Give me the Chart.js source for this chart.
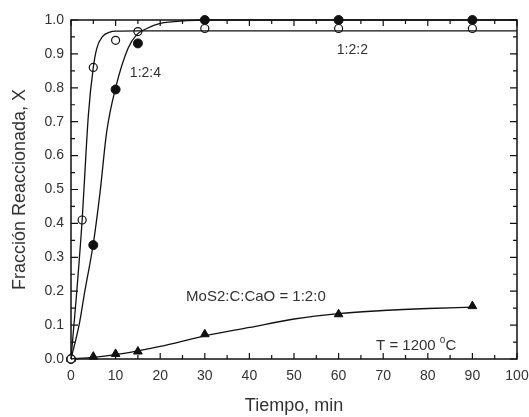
<!DOCTYPE html>
<html>
<head>
<meta charset="utf-8">
<script src="https://cdn.jsdelivr.net/npm/chart.js@4"></script>
<style>
  html, body { margin: 0; padding: 0; background: #fff; }
  #wrap { width: 529px; height: 417px; }
</style>
</head>
<body>
<div id="wrap"><canvas id="grafico" width="529" height="417"></canvas></div>
<script>
'use strict';
//****************************
// DATOS
//****************************
// puntos medidos
var tiempo122 = [0, 2.5, 5, 10, 15, 30, 60, 90];
var frac122 = [0, 0.41, 0.86, 0.94, 0.966, 0.975, 0.975, 0.975];

var tiempo124 = [0, 5, 10, 15, 30, 60, 90];
var frac124 = [0, 0.336, 0.795, 0.931, 1.0, 1.0, 1.0];

var tiempo120 = [0, 5, 10, 15, 30, 60, 90];
var frac120 = [0, 0.007, 0.015, 0.022, 0.073, 0.132, 0.156];

// curvas de ajuste
var ajusteT122 = [0, 1.3, 2.5, 2.9, 3.9, 5, 5.8, 7, 8.7, 10, 15, 30, 100];
var ajusteX122 = [0, 0.2, 0.41, 0.5, 0.72, 0.86, 0.917, 0.95, 0.964, 0.967, 0.968, 0.968, 0.968];

var ajusteT124 = [0, 1.9, 3.1, 5, 6.5, 8, 10, 12.8, 14.7, 17, 20, 26, 30, 100];
var ajusteX124 = [0, 0.106, 0.2, 0.34, 0.49, 0.67, 0.8, 0.917, 0.956, 0.975, 0.99, 0.998, 1.0, 1.0];

var ajusteT120 = [0, 5, 10, 15, 20, 30, 40, 50, 60, 70, 80, 90];
var ajusteX120 = [0, 0.005, 0.013, 0.024, 0.037, 0.068, 0.093, 0.118, 0.134, 0.143, 0.149, 0.153];

var ticksX = [0, 10, 20, 30, 40, 50, 60, 70, 80, 90, 100];
var ticksY = [0, 0.1, 0.2, 0.3, 0.4, 0.5, 0.6, 0.7, 0.8, 0.9, 1.0];

var fuente = '"Liberation Sans", Arial, sans-serif';
var colorTexto = '#333';
var colorLinea = '#111';

function pares(xs, ys) {
  var out = [];
  for (var i = 0; i < xs.length; i++) {
    out.push({ x: xs[i], y: ys[i] });
  }
  return out;
}

// marco con ticks hacia adentro en los cuatro lados
var marco = {
  id: 'marco',
  beforeDatasetsDraw: function(chart) {
    var ctx = chart.ctx;
    var a = chart.chartArea;
    var sx = chart.scales.x;
    var sy = chart.scales.y;
    ctx.save();
    ctx.strokeStyle = colorLinea;
    ctx.lineWidth = 1.5;
    ctx.strokeRect(a.left, a.top, a.right - a.left, a.bottom - a.top);
    ctx.lineWidth = 1.2;
    ctx.beginPath();
    for (var v = 0; v <= 100; v += 5) {
      var px = sx.getPixelForValue(v);
      var len = (v % 10 === 0) ? 6 : 4;
      ctx.moveTo(px, a.bottom); ctx.lineTo(px, a.bottom - len);
      ctx.moveTo(px, a.top); ctx.lineTo(px, a.top + len);
    }
    for (var k = 0; k <= 20; k++) {
      var py = sy.getPixelForValue(k * 0.05);
      var l2 = (k % 2 === 0) ? 7 : 4;
      ctx.moveTo(a.left, py); ctx.lineTo(a.left + l2, py);
      ctx.moveTo(a.right, py); ctx.lineTo(a.right - l2, py);
    }
    ctx.stroke();
    ctx.restore();
  }
};

// textos dentro del grafico
var rotulos = {
  id: 'rotulos',
  afterDraw: function(chart) {
    var ctx = chart.ctx;
    var sx = chart.scales.x;
    var sy = chart.scales.y;
    ctx.save();
    ctx.fillStyle = colorTexto;
    ctx.textBaseline = 'middle';
    ctx.textAlign = 'left';
    ctx.font = '14px ' + fuente;
    ctx.fillText('1:2:4', sx.getPixelForValue(13.2), sy.getPixelForValue(0.843));
    ctx.fillText('1:2:2', sx.getPixelForValue(59.6), sy.getPixelForValue(0.912));
    ctx.font = '15px ' + fuente;
    ctx.fillText('MoS2:C:CaO = 1:2:0', sx.getPixelForValue(25.8), sy.getPixelForValue(0.183));
    var tx = sx.getPixelForValue(68.4);
    var ty = sy.getPixelForValue(0.038);
    var t1 = 'T = 1200 ';
    ctx.fillText(t1, tx, ty);
    var w1 = ctx.measureText(t1).width;
    ctx.font = '10px ' + fuente;
    ctx.fillText('o', tx + w1, ty - 6);
    var w2 = ctx.measureText('o').width;
    ctx.font = '15px ' + fuente;
    ctx.fillText('C', tx + w1 + w2, ty);
    ctx.restore();
  }
};

var ctx = document.getElementById('grafico').getContext('2d');
var chart = new Chart(ctx, {
  type: 'scatter',
  data: {
    datasets: [
      {
        label: 'ajuste 1:2:2',
        data: pares(ajusteT122, ajusteX122),
        showLine: true,
        borderColor: colorLinea,
        borderWidth: 1.3,
        pointRadius: 0,
        cubicInterpolationMode: 'monotone',
        clip: false
      },
      {
        label: 'ajuste 1:2:4',
        data: pares(ajusteT124, ajusteX124),
        showLine: true,
        borderColor: colorLinea,
        borderWidth: 1.3,
        pointRadius: 0,
        cubicInterpolationMode: 'monotone',
        clip: false
      },
      {
        label: 'ajuste 1:2:0',
        data: pares(ajusteT120, ajusteX120),
        showLine: true,
        borderColor: colorLinea,
        borderWidth: 1.3,
        pointRadius: 0,
        cubicInterpolationMode: 'monotone',
        clip: false
      },
      {
        label: '1:2:2',
        data: pares(tiempo122, frac122),
        pointStyle: 'circle',
        pointRadius: 4,
        pointBorderWidth: 1.2,
        pointBackgroundColor: '#fff',
        pointBorderColor: colorLinea,
        clip: false
      },
      {
        label: '1:2:4',
        data: pares(tiempo124, frac124),
        pointStyle: 'circle',
        pointRadius: 4.5,
        pointBorderWidth: 1,
        pointBackgroundColor: colorLinea,
        pointBorderColor: colorLinea,
        clip: false
      },
      {
        label: '1:2:0',
        data: pares(tiempo120, frac120),
        pointStyle: 'triangle',
        pointRadius: 5,
        pointBorderWidth: 1,
        pointBackgroundColor: colorLinea,
        pointBorderColor: colorLinea,
        clip: false
      }
    ]
  },
  options: {
    responsive: false,
    animation: false,
    layout: { padding: { top: 20, right: 12, left: 0, bottom: 0 } },
    plugins: {
      legend: { display: false },
      tooltip: { enabled: false }
    },
    scales: {
      x: {
        type: 'linear',
        min: 0,
        max: 100,
        afterBuildTicks: function(scale) {
          scale.ticks = ticksX.map(function(v) { return { value: v }; });
        },
        afterFit: function(scale) {
          scale.height = 58;
          scale.paddingLeft = 0;
          scale.paddingRight = 0;
        },
        grid: { display: false, drawTicks: false },
        border: { display: false },
        ticks: {
          padding: 9,
          color: colorTexto,
          font: { family: fuente, size: 14 },
          maxRotation: 0,
          autoSkip: false
        },
        title: {
          display: true,
          text: 'Tiempo, min',
          color: colorTexto,
          font: { family: fuente, size: 18 },
          padding: { top: 0, bottom: 0 }
        }
      },
      y: {
        type: 'linear',
        min: 0,
        max: 1,
        afterBuildTicks: function(scale) {
          scale.ticks = ticksY.map(function(v) { return { value: v }; });
        },
        afterFit: function(scale) {
          scale.width = 71;
          scale.paddingTop = 0;
          scale.paddingBottom = 0;
        },
        grid: { display: false, drawTicks: false },
        border: { display: false },
        ticks: {
          padding: 7,
          color: colorTexto,
          font: { family: fuente, size: 14 },
          autoSkip: false,
          callback: function(v) { return v.toFixed(1); }
        },
        title: {
          display: true,
          text: 'Fracción Reaccionada, X',
          color: colorTexto,
          font: { family: fuente, size: 18 },
          padding: { top: 9, bottom: 0 }
        }
      }
    }
  },
  plugins: [marco, rotulos]
});
</script>
</body>
</html>
